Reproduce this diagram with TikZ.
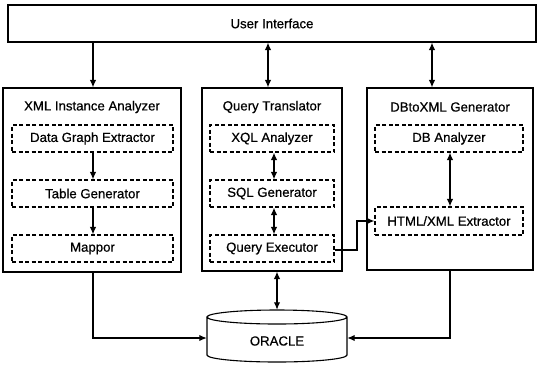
\documentclass[tikz,border=0pt]{standalone}
\usepackage{fontspec}
\setmainfont{Liberation Sans}
\newfontface\lbl{Liberation Sans}[FakeBold=0.6]
\usetikzlibrary{arrows.meta}
\begin{document}
\begin{tikzpicture}[x=1pt,y=-1pt,
  font=\lbl\fontsize{13.2}{15}\selectfont,
  solidbox/.style={draw,line width=1.1pt,inner sep=0pt},
  dashbox/.style={draw,line width=1.1pt,inner sep=0pt,dash pattern=on 4pt off 2.5pt},
  arr/.style={line width=1.3pt,-{Latex[length=7.5pt,width=6.5pt]}},
  darr/.style={line width=1.3pt,{Latex[length=7.5pt,width=6.5pt]}-{Latex[length=7.5pt,width=6.5pt]}}]
\useasboundingbox (0,0) rectangle (537,365);
% user interface
\node[solidbox,minimum width=528pt,minimum height=37pt] (ui) at (272,23.5) {User Interface};
% column boxes
\node[solidbox,minimum width=178pt,minimum height=184pt] (xml) at (92,180) {};
\node[solidbox,minimum width=140pt,minimum height=183pt] (qt) at (272,179.5) {};
\node[solidbox,minimum width=166pt,minimum height=182pt] (dbx) at (450,179) {};
\node (xmlt) at (92,107) {XML Instance Analyzer};
\node (qtt) at (272,107) {Query Translator};
\node (dbxt) at (450,107) {DBtoXML Generator};
% inner boxes
\node[dashbox,minimum width=161pt,minimum height=27pt] (dge) at (92.5,138.5) {Data Graph Extractor};
\node[dashbox,minimum width=161pt,minimum height=27pt] (tg) at (92.5,193.5) {Table Generator};
\node[dashbox,minimum width=161pt,minimum height=27pt] (map) at (92.5,248.5) {Mappor};
\node[dashbox,minimum width=124pt,minimum height=27pt] (xql) at (272,138.5) {XQL Analyzer};
\node[dashbox,minimum width=124pt,minimum height=27pt] (sql) at (272,193.5) {SQL Generator};
\node[dashbox,minimum width=124pt,minimum height=27pt] (qe) at (272,248.5) {Query Executor};
\node[dashbox,minimum width=148pt,minimum height=27pt] (dba) at (449,138.5) {DB Analyzer};
\node[dashbox,minimum width=148pt,minimum height=28pt] (hx) at (449,221) {HTML/XML Extractor};
% database (cylinder drawn directly)
\node[minimum width=140pt,minimum height=53pt,inner sep=0pt] (ora) at (277,336.5) {};
\draw[line width=1.1pt] (207,317) -- (207,355) arc[start angle=180,end angle=0,x radius=70,y radius=7]
  -- (347,317) arc[start angle=0,end angle=-180,x radius=70,y radius=7]
  arc[start angle=180,end angle=0,x radius=70,y radius=7];
\node at (277,341) {ORACLE};
\coordinate (b1) at (93,338);
\coordinate (b2) at (450,338);
\coordinate (j1) at (357,250);
% connectors
\draw[arr] (ui.south -| xml.center) ++(1,0) coordinate (u1) -- (u1 |- xml.north);
\draw[darr] (ui.south -| 268,0) -- (268,0 |- qt.north);
\draw[darr] (ui.south -| 432,0) -- (432,0 |- dbx.north);
\draw[arr] (dge.south -| 93,0) -- (93,0 |- tg.north);
\draw[arr] (tg.south -| 93,0) -- (93,0 |- map.north);
\draw[darr] (xql.south -| 274,0) -- (274,0 |- sql.north);
\draw[darr] (sql.south -| 274,0) -- (274,0 |- qe.north);
\draw[darr] (dba.south -| 450,0) -- (450,0 |- hx.north);
\draw[arr] (qe.east |- j1) -- (j1) |- (hx.west);
\draw[arr] (xml.south -| b1) -- (b1) -- (ora.west |- b1);
\draw[arr] (dbx.south -| b2) -- (b2) -- (ora.east |- b2);
\draw[darr] (qt.south -| ora.north) -- (ora.north);
\end{tikzpicture}
\end{document}
